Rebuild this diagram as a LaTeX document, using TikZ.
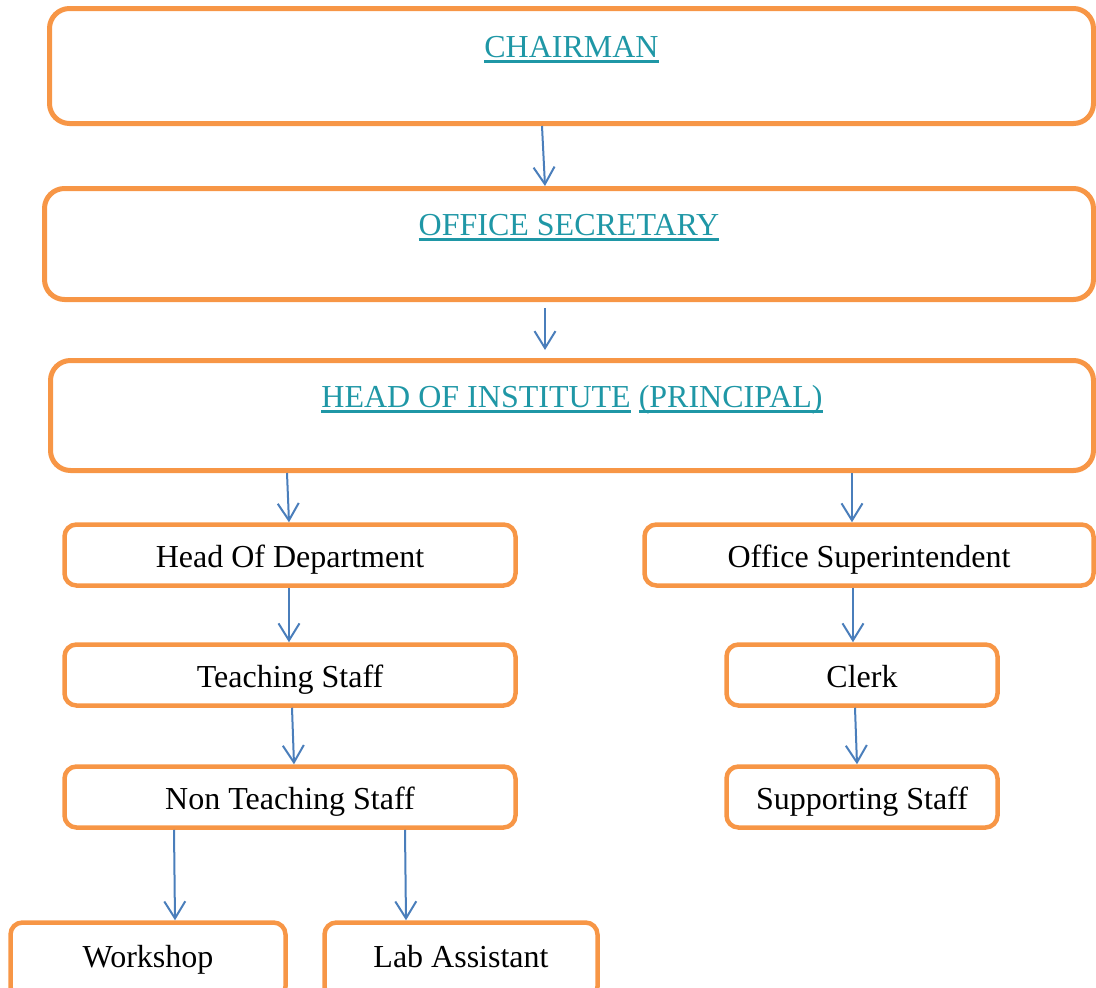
\documentclass[tikz,border=0pt]{standalone}
\usepackage{fontspec}
\setmainfont{Liberation Serif}
\usetikzlibrary{arrows.meta}
\definecolor{boxorange}{HTML}{F79646}
\definecolor{arrblue}{HTML}{4A7EBB}
\definecolor{linkteal}{HTML}{1F97A6}
\newcommand{\myul}[1]{\setbox0\hbox{#1}\leavevmode\rlap{\rule[-5.5pt]{\wd0}{2.5pt}}\box0\relax}
\tikzset{
  bigbox/.style={draw=boxorange, line width=5pt, rounded corners=20pt, inner sep=0pt, font=\fontsize{32}{38}\selectfont, text=linkteal},
  smallbox/.style={draw=boxorange, line width=4.5pt, rounded corners=12pt, inner sep=0pt, minimum height=61pt, text height=30pt, text depth=6pt, font=\fontsize{32}{38}\selectfont},
  bottombox/.style={smallbox, minimum height=76pt, text height=25pt, text depth=12pt},
  arr/.style={draw=arrblue, line width=2pt, -{Straight Barb[length=17pt,width=21pt,line width=2pt]}}
}
\begin{document}
\begin{tikzpicture}[x=1pt,y=-1pt]
\useasboundingbox (0,0) rectangle (1096,988);
\clip (0,0) rectangle (1096,988);
\node[bigbox, minimum width=1044pt, text height=48.5pt, text depth=66.5pt] (chair) at (571.5,66) {\color{linkteal}\myul{CHAIRMAN}};
\node[bigbox, minimum width=1049pt, text height=46.5pt, text depth=64.5pt] (offsec) at (569,244) {\color{linkteal}\myul{OFFICE SECRETARY}};
\node[bigbox, minimum width=1043pt, text height=46.5pt, text depth=63.5pt] (hoi) at (572,415.5) {\color{linkteal}\myul{HEAD OF INSTITUTE}\ \myul{(PRINCIPAL)}};

\node[smallbox, minimum width=451pt] (hod) at (290,555) {Head Of Department};
\node[smallbox, minimum width=451pt] (teach) at (290,675) {Teaching Staff};
\node[smallbox, minimum width=451pt] (nonteach) at (290,797) {Non Teaching Staff};
\node[smallbox, minimum width=449pt] (offsup) at (869,555) {Office Superintendent};
\node[smallbox, minimum width=271pt] (clerk) at (862,675) {Clerk};
\node[smallbox, minimum width=271pt] (support) at (862,797) {Supporting Staff};
\node[bottombox, minimum width=275pt] (workshop) at (148,960.5) {Workshop};
\node[bottombox, minimum width=273pt] (lab) at (461,960.5) {Lab Assistant};

\draw[arr] ([xshift=-29.5pt]chair.south) -- ([xshift=-24pt]offsec.north);
\draw[arr, shorten <=6pt, shorten >=8pt] ([xshift=-24pt]offsec.south) -- ([xshift=-27pt]hoi.north);
\draw[arr] ([xshift=-285pt]hoi.south) -- ([xshift=-1pt]hod.north);
\draw[arr] ([xshift=280pt]hoi.south) -- ([xshift=-17pt]offsup.north);
\draw[arr] ([xshift=-1pt]hod.south) -- ([xshift=-1pt]teach.north);
\draw[arr] ([xshift=-16pt]offsup.south) -- ([xshift=-9pt]clerk.north);
\draw[arr] ([xshift=2pt]teach.south) -- ([xshift=4pt]nonteach.north);
\draw[arr] ([xshift=-7pt]clerk.south) -- ([xshift=-5pt]support.north);
\draw[arr] ([xshift=-116pt]nonteach.south) -- ([xshift=27pt]workshop.north);
\draw[arr] ([xshift=115pt]nonteach.south) -- ([xshift=-55pt]lab.north);
\end{tikzpicture}
\end{document}
